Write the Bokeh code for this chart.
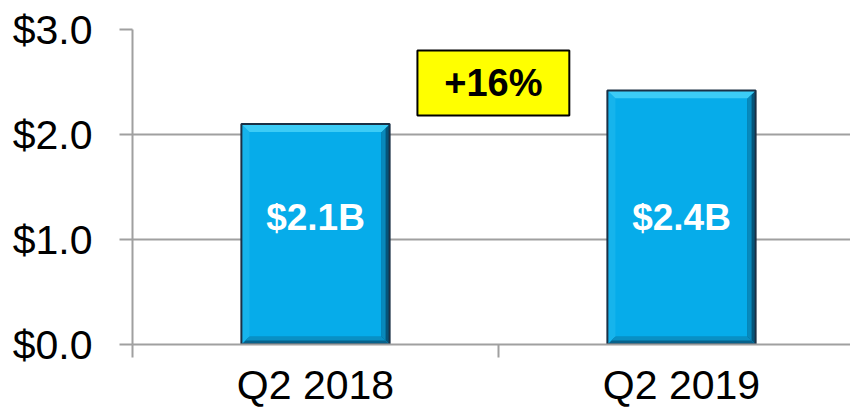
from bokeh.plotting import figure
from bokeh.models import Range1d, FixedTicker, NumeralTickFormatter, ColumnDataSource
from bokeh.embed import file_html
from bokeh.resources import INLINE
from bokeh.core.properties import value

# ---- data ----
categories = ["Q2 2018", "Q2 2019"]
revenue = [2.10, 2.42]
bar_labels = ["$2.1B", "$2.4B"]
y_ticks = [0, 1, 2, 3]
growth_label = "+16%"

FONT = "Liberation Sans"
GRID = "#a0a0a0"

xs = [i + 0.5 for i in range(len(categories))]
bar_w = 0.405
bx, by = 0.022, 0.075   # bevel sizes (data units)

p = figure(width=850, height=410, output_backend="svg", toolbar_location=None,
           x_range=Range1d(0, 718 / 366), y_range=Range1d(0, 3.0),
           min_border_left=132, min_border_right=0, min_border_top=29,
           min_border_bottom=40)
p.outline_line_color = None
p.background_fill_color = "white"
p.xgrid.visible = False
p.ygrid.grid_line_color = GRID
p.ygrid.grid_line_width = 2

ya = p.yaxis[0]
ya.ticker = FixedTicker(ticks=y_ticks)
ya.formatter = NumeralTickFormatter(format="$0.0")
ya.major_tick_out = 13
ya.major_tick_in = 0
ya.minor_tick_line_color = None
ya.axis_line_color = GRID
ya.axis_line_width = 2
ya.major_tick_line_color = GRID
ya.major_tick_line_width = 2
ya.major_label_text_font = FONT
ya.major_label_text_font_size = "41px"
ya.major_label_text_color = "black"
ya.major_label_standoff = 27

xa = p.xaxis[0]
xa.ticker = FixedTicker(ticks=xs, minor_ticks=[0, 1, 2])
xa.major_label_overrides = {x: c for x, c in zip(xs, categories)}
xa.major_tick_line_color = None
xa.major_tick_out = 0
xa.major_tick_in = 0
xa.minor_tick_out = 13
xa.minor_tick_in = 0
xa.minor_tick_line_color = GRID
xa.minor_tick_line_width = 2
xa.axis_line_color = GRID
xa.axis_line_width = 2
xa.major_label_text_font = FONT
xa.major_label_text_font_size = "41px"
xa.major_label_text_color = "black"
xa.major_label_standoff = 4

# ---- bars ----
src = ColumnDataSource(dict(x=xs, top=revenue, label=bar_labels))
p.vbar(x="x", top="top", width=bar_w, source=src, fill_color="#06ACEA",
       line_color=None)

tops_x, tops_y, lefts_x, lefts_y = [], [], [], []
rights_x, rights_y, rin_x, rin_y = [], [], [], []
bots_x, bots_y, bin_x, bin_y = [], [], [], []
for x, t in zip(xs, revenue):
    l, r = x - bar_w / 2, x + bar_w / 2
    tops_x.append([l, r, r - bx, l + bx]); tops_y.append([t, t, t - by, t - by])
    lefts_x.append([l, l, l + bx, l + bx]); lefts_y.append([0, t, t - by, by])
    rights_x.append([r, r, r - bx, r - bx]); rights_y.append([0, t, t - by, by])
    rin_x.append([r - bx / 2, r - bx / 2, r - bx, r - bx]); rin_y.append([by / 2, t - by / 2, t - by, by])
    bots_x.append([l, r, r - bx, l + bx]); bots_y.append([0, 0, by, by])
    bin_x.append([l + bx / 2, r - bx / 2, r - bx, l + bx]); bin_y.append([by / 2, by / 2, by, by])

p.patches(lefts_x, lefts_y, fill_color="#16B4EC", line_color=None)
p.patches(rights_x, rights_y, fill_color="#05557A", line_color=None)
p.patches(rin_x, rin_y, fill_color="#0889BC", line_color=None)
p.patches(bots_x, bots_y, fill_color="#07628C", line_color=None)
p.patches(bin_x, bin_y, fill_color="#0990C4", line_color=None)
p.patches(tops_x, tops_y, fill_color="#3CCCF6", line_color=None)
p.vbar(x="x", top="top", width=bar_w, source=src, fill_color=None,
       line_color="#1B3045", line_width=2)

p.text(x="x", y=1.21, text="label", source=src, text_color="white",
       text_font=value(FONT), text_font_style="bold", text_font_size="37px",
       text_align="center", text_baseline="middle")

# ---- growth callout ----
p.rect(x=0.986, y=2.49, width=0.415, height=0.62, fill_color="#FFFF00",
       line_color="black", line_width=2)
p.text(x=[0.986], y=[2.49], text=[growth_label], text_color="black",
       text_font=value(FONT), text_font_style="bold", text_font_size="38px",
       text_align="center", text_baseline="middle")

open("out.html", "w").write(file_html(p, INLINE))
